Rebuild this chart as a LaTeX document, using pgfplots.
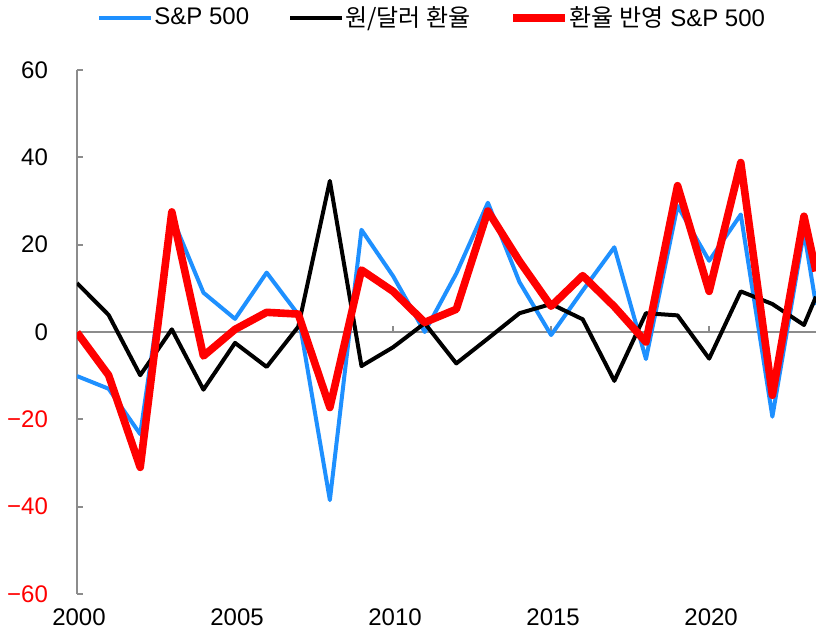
\documentclass[border=0pt]{standalone}
\usepackage{fontspec}
\setmainfont{Liberation Sans}
\newfontfamily\kr{Noto Sans CJK KR}
\usepackage{pgfplots}
\pgfplotsset{compat=1.18}
\definecolor{spblue}{RGB}{30,144,255}
\definecolor{axgray}{RGB}{140,140,140}
\begin{document}
\begin{tikzpicture}
\begin{axis}[
  at={(0pt,0pt)}, anchor=south west,
  scale only axis, width=369.5pt, height=262pt,
  xmin=2000, xmax=2023.38, ymin=-60, ymax=60,
  clip=true,
  axis x line=bottom, axis y line=left,
  x axis line style={draw=none,-},
  y axis line style={draw=axgray,line width=1pt,-},
  xtick={2000,2005,2010,2015,2020},
  xticklabels={2000,2005,2010,2015,2020},
  x tick label style={font=\fontsize{12}{14}\selectfont, yshift=-4pt, xshift=1pt},
  ytick={-60,-40,-20,0,20,40,60},
  yticklabels={\textcolor{red}{−60},\textcolor{red}{−40},\textcolor{red}{−20},0,20,40,60},
  y tick label style={font=\fontsize{12}{14}\selectfont, xshift=-11pt},
  tick align=inside,
  x tick style={draw=none},
  y tick style={draw=axgray,line width=1pt},
  major tick length=3pt,
  legend columns=3,
  legend style={at={(0,1)}, anchor=west, xshift=10pt, yshift=26pt, draw=none, fill=none,
    font=\fontsize{12}{14}\selectfont,
    /tikz/every odd column/.append style={column sep=0pt},
    /tikz/every even column/.append style={column sep=19pt},
    inner sep=0pt, nodes={inner sep=0.5pt}, cells={anchor=west}},
  legend image code/.code={\draw[#1] (0pt,0pt) -- (26pt,0pt);},
  line join=round,
]
\draw[axgray, line width=1pt] (axis cs:2000,0) -- (axis cs:2023.38,0);
\foreach \t in {2005,2010,2015,2020} {
  \edef\tmp{\noexpand\draw[axgray, line width=1pt] (axis cs:\t,0) -- ++(0pt,3pt);}\tmp
}
\addplot[spblue, line width=2pt] coordinates {
(2000,-10.1) (2001,-13.0) (2002,-23.4) (2003,26.4) (2004,9.0) (2005,3.0)
(2006,13.6) (2007,4.0) (2008,-38.5) (2009,23.4) (2010,12.8) (2011,0.0)
(2012,13.4) (2013,29.6) (2014,11.4) (2015,-0.7) (2016,9.5) (2017,19.4)
(2018,-6.2) (2019,28.9) (2020,16.3) (2021,26.9) (2022,-19.4) (2023,23.0)
(2023.38,6.2)};
\addlegendentry{S\&P 500}
\addplot[black, line width=2pt] coordinates {
(2000,11.2) (2001,3.9) (2002,-9.9) (2003,0.6) (2004,-13.2) (2005,-2.5)
(2006,-8.0) (2007,1.2) (2008,34.6) (2009,-7.8) (2010,-3.5) (2011,2.0)
(2012,-7.2) (2013,-1.5) (2014,4.3) (2015,6.4) (2016,2.9) (2017,-11.2)
(2018,4.3) (2019,3.8) (2020,-6.1) (2021,9.3) (2022,6.4) (2023,1.6)
(2023.38,8.1)};
\addlegendentry{{\kr 원/달러 환율}}
\addplot[red, line width=3.8pt] coordinates {
(2000,-0.1) (2001,-9.9) (2002,-31.0) (2003,27.5) (2004,-5.5) (2005,0.6)
(2006,4.5) (2007,4.1) (2008,-17.3) (2009,14.2) (2010,9.3) (2011,2.2)
(2012,5.2) (2013,27.7) (2014,16.2) (2015,5.9) (2016,12.9) (2017,5.8)
(2018,-2.3) (2019,33.5) (2020,9.3) (2021,38.8) (2022,-14.5) (2023,26.5)
(2023.38,13.9)};
\addlegendentry{{\kr 환율 반영} S\&P 500}
\end{axis}
\pgfresetboundingbox
\path[use as bounding box] (-38.5pt,-20.5pt) rectangle (369.5pt,297pt);
\end{tikzpicture}
\end{document}
